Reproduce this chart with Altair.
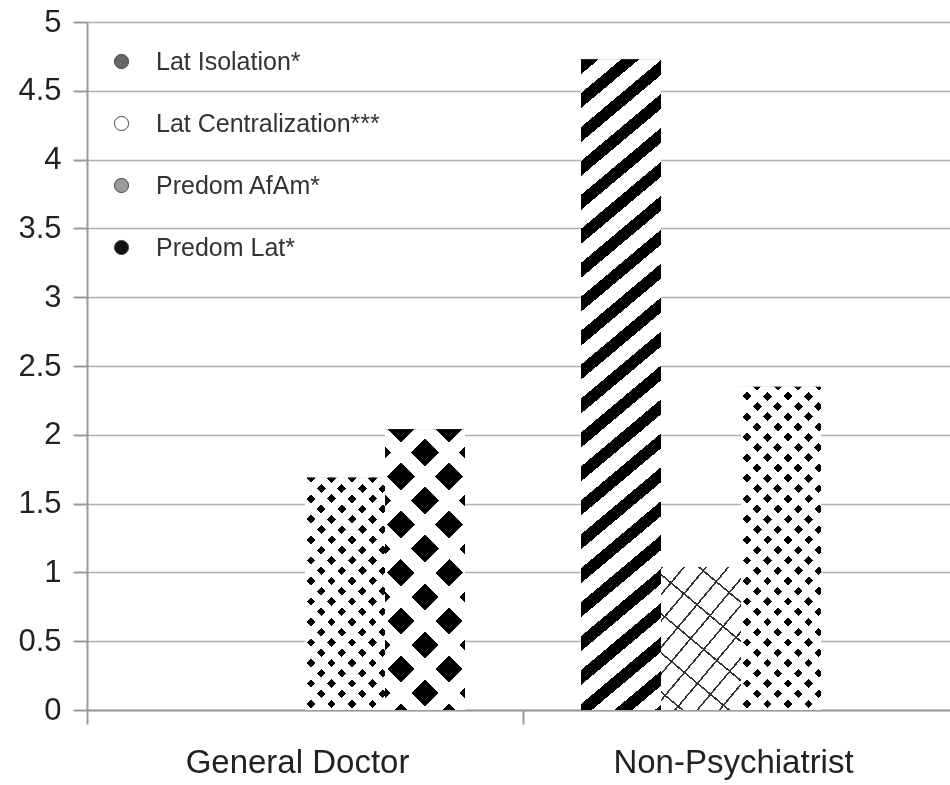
import math
import altair as alt
import pandas as pd

# ---------------- data ----------------
categories = ["General Doctor", "Non-Psychiatrist"]
series = ["Lat Isolation*", "Lat Centralization***", "Predom AfAm*", "Predom Lat*"]
general_doctor = [None, None, 1.69, 2.04]
non_psychiatrist = [4.73, 1.04, 2.35, None]
y_ticks = [0, 0.5, 1, 1.5, 2, 2.5, 3, 3.5, 4, 4.5, 5]
legend_fills = ["#666666", "#ffffff", "#9a9a9a", "#111111"]

rows = []
for cat, vals in zip(categories, [general_doctor, non_psychiatrist]):
    for s, v in zip(series, vals):
        if v is not None:
            rows.append({"category": cat, "series": s, "value": v})
df = pd.DataFrame(rows)

# ---------------- layout ----------------
PLOT_W, PLOT_H = 863, 688
X_RANGE = 872
Y_MAX = 5
BAND = X_RANGE / len(categories)
BAR_W = 80
PAD_OUTER = (BAND / BAR_W - len(series)) / 2
FONT = "Liberation Sans"


def stripes(w, h, angle, period, width, phase=0.0, ink="#000000", paper="#ffffff"):
    """Linear gradient (bbox units) that draws straight stripes at `angle` degrees."""
    a = math.radians(angle)
    nx, ny = math.sin(a), math.cos(a)
    corners = [(0, 0), (1, 0), (0, 1), (1, 1)]
    fvals = [(u * w * nx + v * h * ny, u, v) for u, v in corners]
    fmin, u0, v0 = min(fvals)
    fmax = max(f for f, _, _ in fvals)
    L = fmax - fmin
    S = (w * nx) ** 2 + (h * ny) ** 2
    x2 = u0 + L * w * nx / S
    y2 = v0 + L * h * ny / S

    def inside(f):
        return ((f - phase) % period) < width

    edges = []
    k0 = math.floor((fmin - phase) / period) - 1
    k1 = math.ceil((fmax - phase) / period) + 1
    for k in range(k0, k1 + 1):
        for e in (phase + k * period, phase + k * period + width):
            if fmin < e < fmax:
                edges.append(e)
    edges.sort()
    cur = ink if inside(fmin + 1e-6) else paper
    stops = [{"offset": 0, "color": cur}]
    for e in edges:
        t = round((e - fmin) / L, 5)
        nxt = paper if cur == ink else ink
        stops.append({"offset": t, "color": cur})
        stops.append({"offset": t, "color": nxt})
        cur = nxt
    stops.append({"offset": 1, "color": cur})
    return {"gradient": "linear", "x1": round(u0, 5), "y1": round(v0, 5),
            "x2": round(x2, 5), "y2": round(y2, 5), "stops": stops}


def diamond_lattice(w, h, p, bw, x0, y0):
    s = math.sqrt(0.5)
    ph1 = (x0 + y0) * s - bw / 2
    ph2 = (y0 - x0) * s - bw / 2
    return [(stripes(w, h, 45, p, bw, phase=ph1), None),
            (stripes(w, h, -45, p, bw, phase=ph2), "lighten")]


def patterns(name, w, h):
    if name == "Lat Isolation*":
        return [(stripes(w, h, 40, 26, 11.5), None)]
    if name == "Lat Centralization***":
        return [(stripes(w, h, 50, 17, 1.6, ink="#333333"), None),
                (stripes(w, h, -40, 30, 1.6, phase=5, ink="#333333"), "darken")]
    if name == "Predom AfAm*":
        # small staggered dots
        return diamond_lattice(w, h, 14.5, 6.3, 6, h - 6)
    # Predom Lat*: big diamonds
    return diamond_lattice(w, h, 34, 19.5, w / 2, h - 17)


x_enc = alt.X(
    "category:N",
    scale=alt.Scale(domain=categories, range=[0, X_RANGE], paddingInner=0, paddingOuter=0),
    axis=alt.Axis(title=None, labelAngle=0, labelFontSize=33, labelFont=FONT,
                  labelColor="#222222", labelPadding=22, labelLimit=0, tickSize=14, tickWidth=2,
                  tickColor="#9a9a9a", domainColor="#9a9a9a", domainWidth=2,
                  tickOffset=-BAND / 2, labelOffset=BAND / 2 - 8, grid=False),
)
xo_enc = alt.XOffset(
    "series:N",
    scale=alt.Scale(domain=series, paddingInner=0, paddingOuter=PAD_OUTER),
)
y_enc = alt.Y(
    "value:Q",
    scale=alt.Scale(domain=[0, Y_MAX], nice=False),
    axis=alt.Axis(title=None, values=y_ticks, format="~g", labelFontSize=31,
                  labelFont=FONT, labelColor="#222222", labelPadding=12,
                  tickSize=14, tickWidth=2, tickColor="#9a9a9a",
                  domainColor="#9a9a9a", domainWidth=2,
                  gridColor="#b0b0b0", gridWidth=1.6),
)

base = alt.Chart(df).mark_bar().encode(
    x=x_enc,
    xOffset=xo_enc,
    y=y_enc,
    color=alt.Color(
        "series:N",
        scale=alt.Scale(domain=series, range=legend_fills),
        legend=alt.Legend(title=None, orient="none", legendX=22, legendY=27,
                          labelFontSize=25, labelFont=FONT, labelColor="#333333",
                          labelLimit=0,
                          symbolType="circle", symbolSize=200,
                          symbolStrokeColor="#444444", symbolStrokeWidth=1,
                          rowPadding=36, labelOffset=22),
    ),
)

layers = [base]
for r in df.itertuples():
    w = BAR_W
    h = r.value / Y_MAX * PLOT_H
    for grad, blend in patterns(r.series, w, h):
        mk = {"color": grad}
        if blend:
            mk["blend"] = blend
        layers.append(
            alt.Chart(df)
            .transform_filter((alt.datum.category == r.category) & (alt.datum.series == r.series))
            .mark_bar(**mk)
            .encode(x=x_enc, xOffset=xo_enc, y=y_enc)
        )

chart = (
    alt.layer(*layers)
    .properties(
        width=PLOT_W,
        height=PLOT_H,
        autosize=alt.AutoSizeParams(type="none"),
        padding={"left": 87, "top": 22, "right": 0, "bottom": 75},
        background="white",
    )
    .configure_view(stroke=None)
)

chart.save("out.html", embed_options={"renderer": "svg", "actions": False})
